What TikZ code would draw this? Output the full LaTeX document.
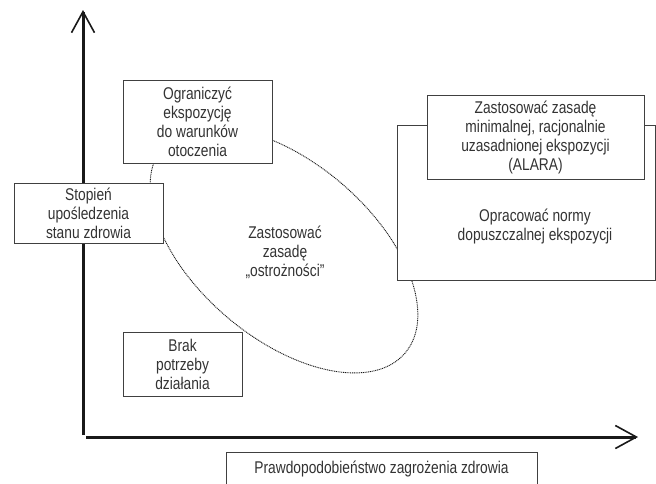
\documentclass[tikz,border=0pt]{standalone}
\usepackage{fontspec}
\setmainfont{Liberation Sans}[FakeStretch=0.81]
\usetikzlibrary{arrows.meta}

\begin{document}
\begin{tikzpicture}[
  x=1pt,y=-1pt,
  >={Straight Barb[length=21pt,width=23pt,line width=1.6pt]},
  txt/.style={align=center,inner sep=0pt,font=\fontsize{17}{19}\selectfont,text=black!80},
  box/.style={txt,draw=black!75,line width=0.8pt,fill=white},
  axis/.style={line width=3pt,draw=black!90},
  dotline/.style={line width=0.9pt,dash pattern=on 1pt off 0.8pt,draw=black!90},
]
  \clip (0,0) rectangle (656,483);
  \draw[dotline,rotate around={-40.4:(284,250)}] (284,250) ellipse [x radius=159,y radius=88];

  \coordinate (ybase) at (83,435);
  \coordinate (ytip) at (83,10);
  \coordinate (xbase) at (86,437);
  \coordinate (xtip) at (638,437);
  \draw[axis,->] (ybase) -- (ytip);
  \draw[axis,->] (xbase) -- (xtip);

  \node[box,minimum width=149pt,minimum height=83pt] (limit) at (197.5,121.5) {Ograniczyć\\ekspozycję\\do warunków\\otoczenia};
  \node[box,minimum width=149pt,minimum height=60pt] (harm) at (88.5,213) {Stopień\\upośledzenia\\stanu zdrowia};
  \node[txt] (precaution) at (285,252) {Zastosować\\zasadę\\„ostrożności”};
  \node[box,minimum width=258pt,minimum height=155pt] (normbox) at (526,202.5) {};
  \node[box,minimum width=217pt,minimum height=84pt] (alara) at (535.5,137) {Zastosować zasadę\\minimalnej, racjonalnie\\uzasadnionej ekspozycji\\(ALARA)};
  \node[txt] (norms) at (535,226) {Opracować normy\\dopuszczalnej ekspozycji};
  \node[box,minimum width=119pt,minimum height=64pt] (none) at (182.5,364) {Brak\\potrzeby\\działania};
  \node[box,minimum width=311pt,minimum height=34pt,anchor=north] (prob) at (381.5,452) {Prawdopodobieństwo zagrożenia zdrowia};
\end{tikzpicture}
\end{document}
